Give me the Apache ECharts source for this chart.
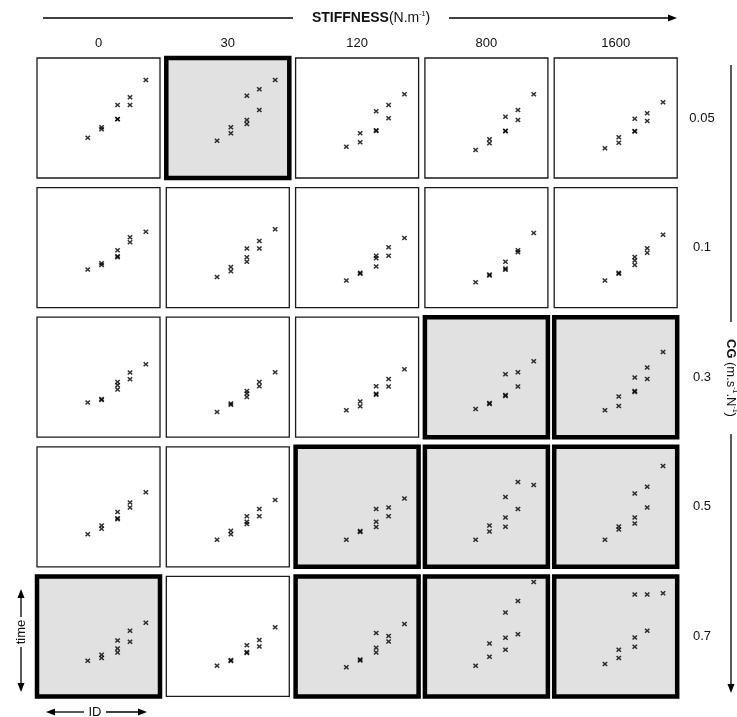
<!DOCTYPE html>
<html><head><meta charset="utf-8">
<script src="https://cdn.jsdelivr.net/npm/echarts@6/dist/echarts.min.js"></script>
<style>html,body{margin:0;padding:0;background:#fff}#c{width:737px;height:717px}</style>
</head><body><div id="c"></div>
<script>
// Column categories (stiffness, N.m-1) and row categories (CG, m.s-1.N-1)
const stiffness = ['0', '30', '120', '800', '1600'];
const cgLevels = ['0.05', '0.1', '0.3', '0.5', '0.7'];
// ID value of each of the 9 trials in a panel (1-2-3-2-1 design)
const idValues = [3.3, 4.2, 4.2, 5.24, 5.24, 5.24, 6.05, 6.05, 7.08];
// Movement time per panel (arbitrary 0-100 scale), one list per stiffness column
const time_cg005 = [
  [33.6, 42.2, 40.6, 60.8, 49.2, 48.9, 67.2, 60.8, 81.7],
  [31.1, 42.2, 37.2, 68.6, 48.3, 45.0, 74.0, 56.7, 81.7],
  [26.1, 37.2, 29.7, 55.6, 39.7, 39.2, 60.8, 49.7, 69.7],
  [23.3, 32.2, 28.9, 51.1, 39.4, 39.0, 56.7, 48.3, 69.7],
  [24.7, 33.9, 29.4, 49.4, 39.2, 38.8, 53.9, 47.5, 63.1]
];
const time_cg01 = [
  [31.7, 37.0, 35.5, 47.8, 42.8, 42.0, 58.6, 54.4, 63.3],
  [25.6, 33.9, 30.3, 49.2, 41.9, 38.3, 55.6, 49.2, 65.3],
  [22.5, 29.0, 28.2, 43.3, 41.1, 34.2, 50.3, 43.3, 58.1],
  [21.1, 27.6, 26.8, 38.3, 32.5, 31.5, 47.8, 46.1, 62.2],
  [22.5, 29.0, 28.2, 42.2, 39.2, 35.6, 49.4, 45.8, 60.8]
];
const time_cg03 = [
  [28.9, 31.8, 31.0, 46.1, 43.3, 39.7, 53.9, 48.3, 60.8],
  [21.1, 28.0, 27.1, 38.6, 36.4, 33.6, 46.1, 42.5, 54.2],
  [22.5, 29.7, 25.8, 42.5, 36.2, 35.4, 48.6, 42.2, 56.7],
  [23.6, 28.5, 27.7, 52.5, 35.1, 34.3, 54.2, 42.2, 63.3],
  [22.5, 33.9, 26.1, 49.7, 38.5, 37.7, 58.1, 48.6, 71.1]
];
const time_cg05 = [
  [27.2, 34.4, 31.7, 45.6, 40.4, 39.6, 53.6, 49.4, 62.2],
  [22.5, 30.0, 27.2, 42.2, 37.5, 35.6, 48.1, 42.2, 55.6],
  [22.5, 29.8, 29.0, 48.1, 37.5, 33.1, 49.4, 42.2, 56.9],
  [22.5, 34.4, 29.4, 58.1, 41.1, 33.3, 70.6, 48.1, 68.1],
  [22.5, 33.6, 31.1, 61.1, 41.1, 36.1, 66.7, 49.4, 83.9]
];
const time_cg07 = [
  [29.8, 34.7, 32.0, 46.5, 39.9, 36.6, 54.8, 45.5, 61.4],
  [25.6, 30.4, 29.6, 42.7, 37.0, 36.2, 46.9, 41.6, 57.6],
  [24.2, 30.7, 29.9, 52.9, 40.5, 36.6, 50.4, 45.7, 60.3],
  [25.6, 44.0, 33.1, 70.0, 48.8, 38.8, 79.6, 51.8, 95.3],
  [27.0, 38.8, 32.0, 84.9, 49.0, 41.3, 84.9, 54.8, 86.0]
];
const rowsData = [time_cg005, time_cg01, time_cg03, time_cg05, time_cg07];
// Highlighted panels [row, col]
const highlighted = [[0,1],[2,3],[2,4],[3,2],[3,3],[3,4],[4,0],[4,2],[4,3],[4,4]];

const chart = echarts.init(document.getElementById('c'), null, {renderer: 'canvas'});
const FONT = "'Liberation Sans', Arial, sans-serif";
const X0 = 37, DX = 129.3, W = 123;
const Y0 = 58, DY = 129.6, H = 120;
const xMark = 'path://M0,2L2,0L5,3L8,0L10,2L7,5L10,8L8,10L5,7L2,10L0,8L3,5Z';

const grids = [], xAxes = [], yAxes = [], series = [];
for (let r = 0; r < 5; r++) {
  for (let c = 0; c < 5; c++) {
    const i = r * 5 + c;
    const hl = highlighted.some(h => h[0] === r && h[1] === c);
    grids.push({
      left: X0 + c * DX, top: Y0 + r * DY, width: W, height: H,
      show: true,
      backgroundColor: hl ? '#e1e1e1' : '#ffffff',
      borderColor: hl ? '#000000' : '#1a1a1a',
      borderWidth: hl ? 4.5 : 1.3
    });
    xAxes.push({type: 'value', gridIndex: i, min: 0, max: 8, show: false});
    yAxes.push({type: 'value', gridIndex: i, min: 0, max: 100, show: false});
    series.push({
      type: 'scatter', xAxisIndex: i, yAxisIndex: i,
      symbol: xMark, symbolSize: [5.5, 5], silent: true,
      itemStyle: {color: '#000'},
      data: idValues.map((x, k) => [x, rowsData[r][c][k]])
    });
  }
}

const graphics = [];
// column labels
stiffness.forEach((s, c) => graphics.push({
  type: 'text', x: X0 + c * DX + W / 2, y: 43,
  style: {text: s, font: '13px ' + FONT, fill: '#111', align: 'center', verticalAlign: 'middle'}
}));
// row labels
cgLevels.forEach((s, r) => graphics.push({
  type: 'text', x: 702, y: Y0 + r * DY + H / 2,
  style: {text: s, font: '13px ' + FONT, fill: '#111', align: 'center', verticalAlign: 'middle'}
}));
const lineStyle = {stroke: '#000', lineWidth: 1.3};
// top stiffness arrow
graphics.push({type: 'line', shape: {x1: 43, y1: 18, x2: 293, y2: 18}, style: lineStyle});
graphics.push({type: 'line', shape: {x1: 449, y1: 18, x2: 670, y2: 18}, style: lineStyle});
graphics.push({type: 'polygon', shape: {points: [[668, 14.5], [677, 18], [668, 21.5]]}, style: {fill: '#000'}});
graphics.push({
  type: 'text', x: 371, y: 18,
  style: {
    text: '{b|STIFFNESS}{n|(N.m}{s|-1}{n|)}',
    align: 'center', verticalAlign: 'middle',
    rich: {
      b: {font: 'bold 14px ' + FONT, fill: '#111', lineHeight: 16},
      n: {font: '14px ' + FONT, fill: '#111', lineHeight: 16},
      s: {font: '7px ' + FONT, fill: '#111', lineHeight: 16, verticalAlign: 'top', padding: [1, 0, 0, 0]}
    }
  }
});
// right CG arrow
graphics.push({type: 'line', shape: {x1: 731, y1: 65, x2: 731, y2: 322}, style: lineStyle});
graphics.push({type: 'line', shape: {x1: 731, y1: 434, x2: 731, y2: 686}, style: lineStyle});
graphics.push({type: 'polygon', shape: {points: [[727.5, 684], [731, 693], [734.5, 684]]}, style: {fill: '#000'}});
graphics.push({
  type: 'text', x: 731, y: 378, rotation: -Math.PI / 2,
  style: {
    text: '{b|CG} {n|(m.s}{s|-1}{n|.N}{s|-1}{n|)}',
    align: 'center', verticalAlign: 'middle',
    rich: {
      b: {font: 'bold 13px ' + FONT, fill: '#111', lineHeight: 16},
      n: {font: '13px ' + FONT, fill: '#111', lineHeight: 16},
      s: {font: '7px ' + FONT, fill: '#111', lineHeight: 16, verticalAlign: 'top', padding: [1, 0, 0, 0]}
    }
  }
});
// time arrow (left bottom)
graphics.push({type: 'line', shape: {x1: 21, y1: 597, x2: 21, y2: 617}, style: lineStyle});
graphics.push({type: 'line', shape: {x1: 21, y1: 647, x2: 21, y2: 684}, style: lineStyle});
graphics.push({type: 'polygon', shape: {points: [[17.5, 598], [21, 589], [24.5, 598]]}, style: {fill: '#000'}});
graphics.push({type: 'polygon', shape: {points: [[17.5, 683], [21, 692], [24.5, 683]]}, style: {fill: '#000'}});
graphics.push({
  type: 'text', x: 21, y: 632, rotation: Math.PI / 2,
  style: {text: 'time', font: '13px ' + FONT, fill: '#111', align: 'center', verticalAlign: 'middle'}
});
// ID arrow
graphics.push({type: 'line', shape: {x1: 53, y1: 712, x2: 84, y2: 712}, style: lineStyle});
graphics.push({type: 'line', shape: {x1: 106, y1: 712, x2: 140, y2: 712}, style: lineStyle});
graphics.push({type: 'polygon', shape: {points: [[55, 708.5], [46, 712], [55, 715.5]]}, style: {fill: '#000'}});
graphics.push({type: 'polygon', shape: {points: [[138, 708.5], [147, 712], [138, 715.5]]}, style: {fill: '#000'}});
graphics.push({
  type: 'text', x: 95, y: 712,
  style: {text: 'ID', font: '13px ' + FONT, fill: '#111', align: 'center', verticalAlign: 'middle'}
});

chart.setOption({
  animation: false,
  backgroundColor: '#ffffff',
  grid: grids, xAxis: xAxes, yAxis: yAxes, series: series,
  graphic: {elements: graphics}
});
</script></body></html>
